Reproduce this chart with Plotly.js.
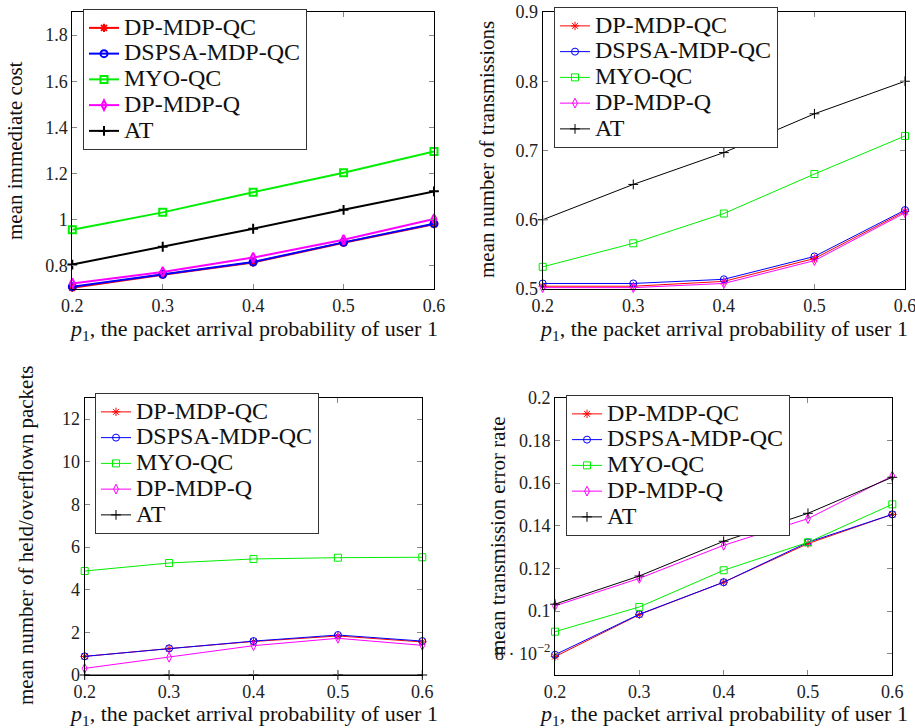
<!DOCTYPE html>
<html>
<head>
<meta charset="utf-8">
<script src="https://cdn.plot.ly/plotly-3.0.1.min.js"></script>
<style>html,body{margin:0;padding:0;background:#fff;}#chart{width:915px;height:728px;}</style>
</head>
<body>
<div id="chart"></div>
<script>
// ---- data ----
const xVals = [0.2, 0.3, 0.4, 0.5, 0.6];
const xTickText = ['0.2', '0.3', '0.4', '0.5', '0.6'];
const seriesNames = ['DP-MDP-QC', 'DSPSA-MDP-QC', 'MYO-QC', 'DP-MDP-Q', 'AT'];

// mean immediate cost
const costDPMDPQC  = [0.705, 0.762, 0.815, 0.900, 0.981];
const costDSPSA    = [0.710, 0.764, 0.817, 0.902, 0.983];
const costMYO      = [0.957, 1.032, 1.119, 1.204, 1.296];
const costDPMDPQ   = [0.724, 0.774, 0.836, 0.913, 1.003];
const costAT       = [0.806, 0.883, 0.961, 1.043, 1.123];

// mean number of transmissions
const transDPMDPQC = [0.504, 0.504, 0.511, 0.544, 0.612];
const transDSPSA   = [0.508, 0.508, 0.514, 0.547, 0.614];
const transMYO     = [0.532, 0.566, 0.609, 0.666, 0.721];
const transDPMDPQ  = [0.502, 0.502, 0.508, 0.541, 0.610];
const transAT      = [0.600, 0.651, 0.697, 0.753, 0.800];

// mean number of held/overflown packets
const heldDPMDPQC  = [0.87, 1.24, 1.57, 1.83, 1.55];
const heldDSPSA    = [0.875, 1.25, 1.59, 1.875, 1.59];
const heldMYO      = [4.875, 5.25, 5.44, 5.50, 5.52];
const heldDPMDPQ   = [0.31, 0.83, 1.375, 1.72, 1.39];
const heldAT       = [0, 0, 0, 0, 0];

// mean transmission error rate
const errDPMDPQC   = [0.0786, 0.0983, 0.1135, 0.1316, 0.1453];
const errDSPSA     = [0.0795, 0.0985, 0.1135, 0.1322, 0.1453];
const errMYO       = [0.0903, 0.1019, 0.1191, 0.1322, 0.1500];
const errDPMDPQ    = [0.1024, 0.1153, 0.1308, 0.1433, 0.1633];
const errAT        = [0.1032, 0.1164, 0.1327, 0.1458, 0.1627];

const errTickVals  = [0.08, 0.10, 0.12, 0.14, 0.16, 0.18, 0.20];
const errTickText  = ['8 · 10<sup>−2</sup>', '0.1', '0.12', '0.14', '0.16', '0.18', '0.2'];

// ---- styling ----
const colors  = ['#ff0000', '#0000ff', '#00ee00', '#ff00ff', '#000000'];
const symbols = ['asterisk-open', 'circle-open', 'square-open', 'diamond-tall-open', 'cross-thin-open'];
const FONT = 'Liberation Serif, DejaVu Serif, serif';

function makeTraces(sets, sfx, legendId, lw, msize) {
  return sets.map((ys, i) => ({
    type: 'scatter', mode: 'lines+markers',
    x: xVals, y: ys,
    name: '<span style="font-size:24px">' + seriesNames[i] + '</span>',
    xaxis: 'x' + sfx, yaxis: 'y' + sfx, legend: legendId,
    cliponaxis: false,
    line: {color: colors[i], width: lw},
    marker: {symbol: symbols[i], size: msize, color: colors[i],
             line: {color: colors[i], width: lw}}
  }));
}

const traces = [].concat(
  makeTraces([costDPMDPQC, costDSPSA, costMYO, costDPMDPQ, costAT], '', 'legend', 2, 7),
  makeTraces([transDPMDPQC, transDSPSA, transMYO, transDPMDPQ, transAT], '2', 'legend2', 1, 7),
  makeTraces([heldDPMDPQC, heldDSPSA, heldMYO, heldDPMDPQ, heldAT], '3', 'legend3', 1, 7),
  makeTraces([errDPMDPQC, errDSPSA, errMYO, errDPMDPQ, errAT], '4', 'legend4', 1, 7)
);

const W = 915, H = 728;
const px = v => v / W, py = v => 1 - v / H;

function axis(extra) {
  return Object.assign({
    showline: true, linecolor: '#000', linewidth: 1, mirror: 'allticks',
    ticks: 'inside', ticklen: 5, tickcolor: '#888', tickwidth: 1,
    showgrid: false, zeroline: false, ticklabeloverflow: 'allow',
    tickfont: {family: FONT, size: 18, color: '#222'}
  }, extra);
}
const xTicks = {tickvals: xVals, ticktext: xTickText, range: [0.2, 0.6]};

function legendAt(x, y) {
  return {x: px(x), y: py(y), xanchor: 'left', yanchor: 'top', xref: 'paper', yref: 'paper',
          bgcolor: '#fff', bordercolor: '#333', borderwidth: 1,
          font: {family: FONT, size: 17.5, color: '#111'}, tracegroupgap: 0, itemwidth: 30};
}

const xTitle = '<i>p</i><sub>1</sub>, the packet arrival probability of user 1';
function ann(text, x, y, angle, size) {
  return {text: text, x: px(x), y: py(y), xref: 'paper', yref: 'paper', showarrow: false,
          textangle: angle || 0, xanchor: 'center', yanchor: 'middle',
          font: {family: FONT, size: size || 22, color: '#111'}};
}

const layout = {
  width: W, height: H, margin: {l: 0, r: 0, t: 0, b: 0},
  paper_bgcolor: '#fff', plot_bgcolor: '#fff', showlegend: true,
  xaxis:  axis(Object.assign({domain: [px(72.3), px(434)], anchor: 'y'}, xTicks)),
  yaxis:  axis({domain: [py(289), py(12)], range: [0.7, 1.9], dtick: 0.2, tick0: 0.8, anchor: 'x'}),
  xaxis2: axis(Object.assign({domain: [px(542.7), px(905)], anchor: 'y2'}, xTicks)),
  yaxis2: axis({domain: [py(289), py(12)], range: [0.5, 0.9], dtick: 0.1, tick0: 0.5, anchor: 'x2'}),
  xaxis3: axis(Object.assign({domain: [px(84.7), px(422.3)], anchor: 'y3'}, xTicks)),
  yaxis3: axis({domain: [py(675), py(397.7)], range: [0, 13], dtick: 2, tick0: 0, anchor: 'x3'}),
  xaxis4: axis(Object.assign({domain: [px(555), px(892.3)], anchor: 'y4'}, xTicks)),
  yaxis4: axis({domain: [py(675), py(397.7)], range: [0.07, 0.2], tickvals: errTickVals, ticktext: errTickText, anchor: 'x4'}),
  legend:  legendAt(83, 9),
  legend2: legendAt(554, 7),
  legend3: legendAt(95, 393),
  legend4: legendAt(566, 395),
  annotations: [
    ann('mean immediate cost', 15, 151, -90, 21),
    ann('mean number of transmissions', 487, 150, -90, 21),
    ann('mean number of held/overflown packets', 26, 536, -90, 21),
    ann('mean transmission error rate', 498, 536, -90, 21),
    ann(xTitle, 253, 330),
    ann(xTitle, 723, 330),
    ann(xTitle, 253, 715),
    ann(xTitle, 723, 715)
  ]
};

Plotly.newPlot('chart', traces, layout, {displayModeBar: false, staticPlot: true});
</script>
</body>
</html>
